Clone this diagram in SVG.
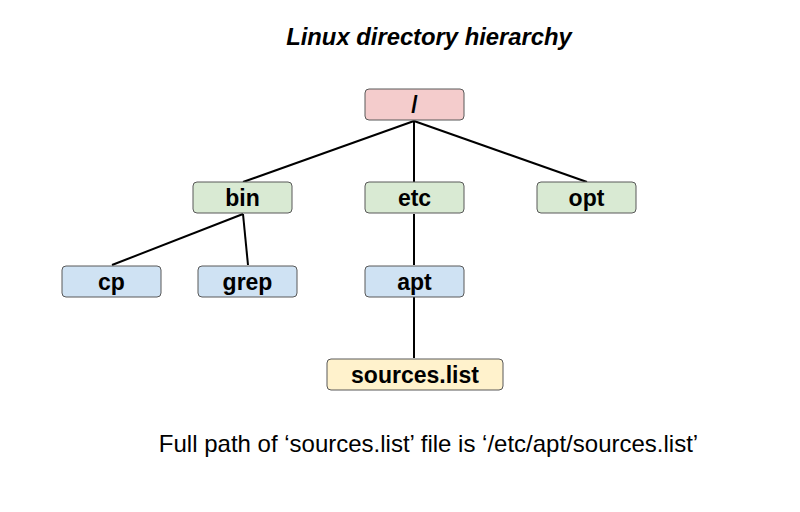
<svg xmlns="http://www.w3.org/2000/svg" width="800" height="512" viewBox="0 0 800 512">
<style>
.box{stroke:#595959;stroke-width:1}
.lbl{font-family:"Liberation Sans",Arial,sans-serif;font-weight:bold;font-size:23px;text-anchor:middle;fill:#000}
.edge{stroke:#000;stroke-width:2;fill:none}
.r{fill:#f4cccc}.g{fill:#d9ead3}.b{fill:#cfe2f3}.y{fill:#fff2cc}
</style>
<rect width="800" height="512" fill="#fff"/>
<text x="429" y="45" font-family="'Liberation Sans',Arial,sans-serif" font-size="23.8" font-weight="bold" font-style="italic" text-anchor="middle">Linux directory hierarchy</text>
<g id="connectors">
<line class="edge" x1="414" y1="121" x2="243" y2="182"/>
<line class="edge" x1="414" y1="121" x2="414" y2="182"/>
<line class="edge" x1="414" y1="121" x2="587" y2="182"/>
<line class="edge" x1="243" y1="214" x2="112" y2="265"/>
<line class="edge" x1="243" y1="214" x2="248" y2="265"/>
<line class="edge" x1="414" y1="214" x2="414" y2="265"/>
<line class="edge" x1="414" y1="297" x2="414" y2="358"/>
</g>
<g id="root"><rect class="box r" x="365" y="89" width="99" height="31" rx="4"/><text class="lbl" x="414.5" y="113">/</text></g>
<g id="bin"><rect class="box g" x="193" y="182" width="99" height="31" rx="4"/><text class="lbl" x="242.5" y="206">bin</text></g>
<g id="etc"><rect class="box g" x="365" y="182" width="99" height="31" rx="4"/><text class="lbl" x="414.5" y="206">etc</text></g>
<g id="opt"><rect class="box g" x="537" y="182" width="99" height="31" rx="4"/><text class="lbl" x="586.5" y="206">opt</text></g>
<g id="cp"><rect class="box b" x="62" y="266" width="99" height="31" rx="4"/><text class="lbl" x="111.5" y="290">cp</text></g>
<g id="grep"><rect class="box b" x="198" y="266" width="99" height="31" rx="4"/><text class="lbl" x="247.5" y="290">grep</text></g>
<g id="apt"><rect class="box b" x="365" y="266" width="99" height="31" rx="4"/><text class="lbl" x="414.5" y="290">apt</text></g>
<g id="sources"><rect class="box y" x="327" y="359" width="176" height="31" rx="4"/><text class="lbl" x="415" y="383">sources.list</text></g>
<text x="428.5" y="452" font-family="'Liberation Sans',Arial,sans-serif" font-size="24" text-anchor="middle">Full path of ‘sources.list’ file is ‘/etc/apt/sources.list’</text>
</svg>
